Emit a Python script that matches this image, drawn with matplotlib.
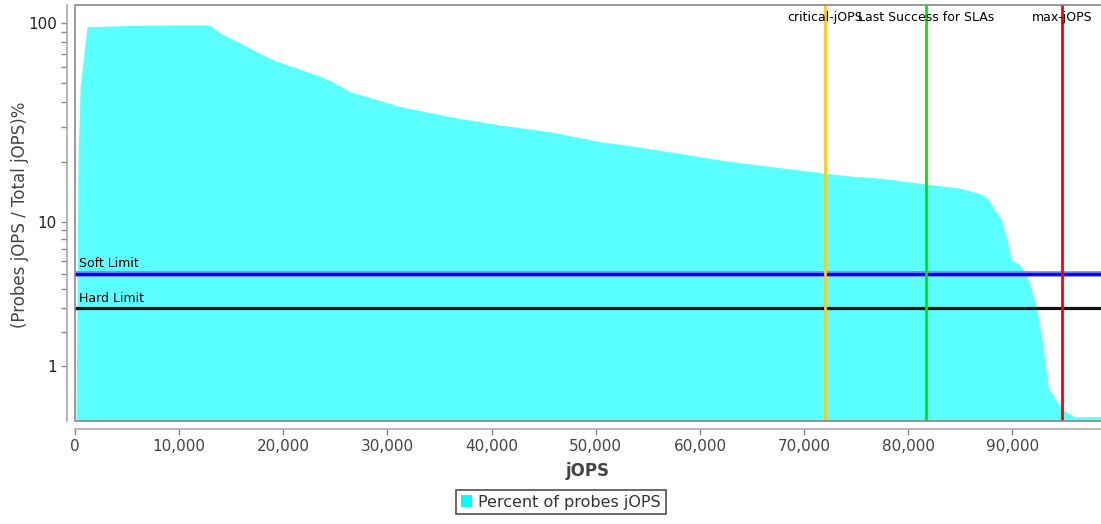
import numpy as np
import matplotlib
matplotlib.use("Agg")
import matplotlib.pyplot as plt
from matplotlib.patches import Patch
from matplotlib.lines import Line2D
from matplotlib.ticker import FixedLocator, NullFormatter, FuncFormatter
from matplotlib.transforms import blended_transform_factory

# %% data
jops = [100, 300, 500, 1150, 5000, 10000, 12950, 13900, 15850, 17100, 19000,
        21600, 23500, 24500, 26400, 31200, 36000, 40800, 45600, 48500,
        50400, 52300, 58100, 61900, 65700, 72000, 74400, 77300, 81700, 84900,
        86850, 87600, 88300, 88950, 89550, 89900, 90700, 91250, 91750, 92300,
        92900, 93450, 94350, 94900, 95950, 98500]
pct = [0, 23, 48, 95.7, 97, 97.7, 97.7, 89.1, 79.3, 73.1, 65.2,
       58.5, 54.0, 51.3, 45.2, 38.0, 33.8, 30.7, 28.4, 26.5,
       25.3, 24.6, 22.1, 20.5, 19.3, 17.6, 17.0, 16.6, 15.5, 14.8,
       13.9, 13.2, 11.5, 10.2, 7.6, 6.05, 5.65, 5.05, 4.14, 3.05,
       1.63, 0.52, 0.26, 0.15, 0.057, 0.057]

limitNames = ["Soft Limit", "Hard Limit"]
limitValues = [5, 3]
markerNames = ["critical-jOPS", "Last Success for SLAs", "max-jOPS"]
markerValues = [72000, 81700, 94800]
xTicks = list(range(0, 100000, 10000))


# adjusted log10 (values below 10 are pulled toward 1 so 0 maps to 0)
def fwd(v):
    v = np.asarray(v, dtype=float)
    big = np.log10(np.maximum(v, 10.0))
    small = np.log10(np.maximum(0.9 * v + 1.0, 1e-9))
    return np.where(v >= 10, big, small)


def inv(u):
    u = np.asarray(u, dtype=float)
    return np.where(u >= 1, 10.0 ** u, (10.0 ** u - 1.0) / 0.9)


# %% figure
W, H = 1101, 524
fig = plt.figure(figsize=(W / 100, H / 100), dpi=100)
ax = fig.add_axes([75 / W, 103 / H, 1026 / W, 416 / H])
ax.set_yscale("function", functions=(fwd, inv))

ax.fill_between(jops, 0, pct, color="#5affff", lw=0, zorder=1)

# limit lines
ax.axhline(limitValues[0], color="#7878ff", lw=4, zorder=3)
ax.axhline(limitValues[0], color="#0000e6", lw=2, zorder=3)
ax.axhline(limitValues[1], color="#111111", lw=2.3, zorder=3)

tr = blended_transform_factory(ax.transAxes, ax.transData)
for name, val in zip(limitNames, limitValues):
    ax.annotate(name, xy=(0, val), xycoords=tr, xytext=(3, 4.5),
                textcoords="offset points", va="baseline", ha="left",
                fontsize=9, color="black", zorder=5)

# marker lines
markerColors = ["#ffc81e", "#00e600", "#ff0000"]
for val, col in zip(markerValues, markerColors):
    ax.axvline(val, color=col, lw=2, zorder=4)

trx = ax.get_xaxis_transform()
for name, val in zip(markerNames, markerValues):
    ax.text(val, 0.971, name, transform=trx, ha="center", va="center",
            fontsize=9, color="black", zorder=6)

ax.set_xlim(0, 98500)
ax.set_ylim(0, 123)

# ticks
ax.xaxis.set_major_locator(FixedLocator(xTicks))
ax.xaxis.set_major_formatter(FuncFormatter(lambda v, p: f"{int(v):,}"))
ax.yaxis.set_major_locator(FixedLocator([1, 10, 100]))
ax.yaxis.set_major_formatter(FuncFormatter(lambda v, p: f"{v:g}"))
ax.yaxis.set_minor_locator(FixedLocator(
    [2, 3, 4, 5, 6, 7, 8, 9, 20, 30, 40, 50, 60, 70, 80, 90]))
ax.yaxis.set_minor_formatter(NullFormatter())
ax.tick_params(axis="both", which="both", direction="out", length=4,
               width=1, color="#888888")
ax.tick_params(axis="x", labelsize=11, labelcolor="#444444", pad=3)
ax.tick_params(axis="y", labelsize=11, labelcolor="#222222", pad=3)

for s in ["top", "right"]:
    ax.spines[s].set_visible(False)
for s in ["left", "bottom"]:
    ax.spines[s].set_position(("outward", 6))
    ax.spines[s].set_color("#aaaaaa")
    ax.spines[s].set_linewidth(1.2)

# plot outline (top, left, bottom; the right side runs off the image)
outline = Line2D([1, 0, 0, 1], [1, 1, 0, 0], transform=ax.transAxes,
                 color="#888888", lw=1.2, clip_on=False, zorder=7)
ax.add_line(outline)

ax.set_xlabel("jOPS", fontsize=12, fontweight="bold", color="#444444",
              labelpad=6)
fig.text(20 / W, 1 - 215 / H, "(Probes jOPS / Total jOPS)%", rotation=90,
         ha="center", va="center", fontsize=12, color="#444444")

leg = fig.legend(handles=[Patch(facecolor="#00ffff", edgecolor="none",
                                label="Percent of probes jOPS")],
                 loc="center", bbox_to_anchor=(561 / W, 1 - 502 / H),
                 fontsize=11.5, frameon=True, fancybox=False,
                 handlelength=0.7, handleheight=0.7, handletextpad=0.4,
                 borderpad=0.3, labelcolor="#333333")
leg.get_frame().set_edgecolor("#222222")
leg.get_frame().set_linewidth(1.2)

fig.savefig("out.png", dpi=100)
